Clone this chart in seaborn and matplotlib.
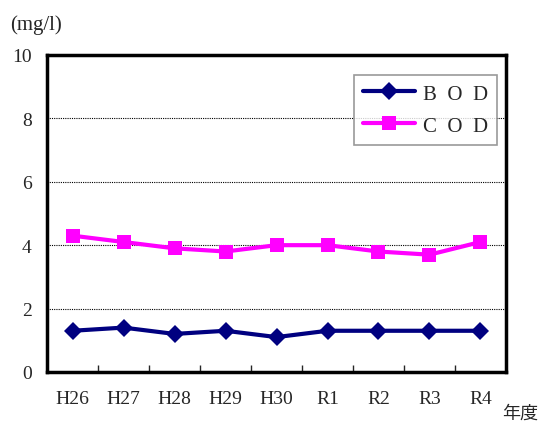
import matplotlib as mpl
mpl.use('Agg')
import matplotlib.pyplot as plt
from matplotlib.ticker import FixedLocator
import pandas as pd
import seaborn as sns

years = ['H26', 'H27', 'H28', 'H29', 'H30', 'R1', 'R2', 'R3', 'R4']
bod = [1.3, 1.4, 1.2, 1.3, 1.1, 1.3, 1.3, 1.3, 1.3]
cod = [4.3, 4.1, 3.9, 3.8, 4.0, 4.0, 3.8, 3.7, 4.1]
series = ['BOD', 'COD']


def save_graph():
    df = pd.DataFrame({'year': years, 'BOD': bod, 'COD': cod})
    ldf = pd.melt(df, id_vars='year', var_name='typ', value_name='val')
    ldf['x'] = ldf['year'].map({y: i for i, y in enumerate(years)})

    sns.set_style('white')
    plt.rcParams['font.family'] = ['Liberation Serif', 'Noto Sans CJK JP']

    f = plt.figure(figsize=(5.47, 4.27), dpi=100)
    ax = f.add_axes([0.086, 0.1265, 0.839, 0.7425])

    pal = {'BOD': '#000080', 'COD': '#ff00ff'}
    sns.lineplot(data=ldf, x='x', y='val', hue='typ', style='typ',
                 palette=pal, markers={'BOD': 'D', 'COD': 's'},
                 dashes=False, linewidth=3, markersize=10.5,
                 markeredgewidth=0, ax=ax)
    for ln in ax.lines:
        if ln.get_marker() == 'D':
            ln.set_markersize(9.5)

    ax.set_xlim(-0.5, len(years) - 0.5)
    ax.set_ylim(0, 10)
    ax.set_yticks([0, 2, 4, 6, 8, 10])
    ax.set_xticks(range(len(years)))
    ax.set_xticklabels(years, fontsize=14)
    ax.xaxis.set_minor_locator(FixedLocator([i + 0.5 for i in range(len(years) - 1)]))
    ax.tick_params(axis='x', which='major', length=0, pad=13)
    ax.tick_params(axis='x', which='minor', direction='in', length=5, width=1, bottom=True)
    ax.tick_params(axis='y', length=0, labelsize=14, pad=11)
    ax.set_xlabel('')
    ax.set_ylabel('')

    for y in [2, 4, 6, 8]:
        ax.axhline(y, color='black', linestyle=(0, (1, 1)), linewidth=0.8, zorder=0)

    for s in ax.spines.values():
        s.set_visible(True)
        s.set_color('black')
        s.set_linewidth(2.5)

    h, l = ax.get_legend_handles_labels()
    leg = ax.legend(h, ['B  O  D', 'C  O  D'], loc='upper right', bbox_to_anchor=(0.981, 0.938),
                    fontsize=15, frameon=True, fancybox=False, handlelength=2.5,
                    handletextpad=0.35, borderpad=0.45, labelspacing=0.6, borderaxespad=0)
    leg.get_frame().set_edgecolor('#808080')
    leg.get_frame().set_linewidth(1.2)

    f.text(0.018, 0.93, '(mg/l)', fontsize=15)
    f.text(0.918, 0.02, '年度', fontsize=13, family=['Noto Sans CJK JP'])

    f.savefig('out.png', dpi=100)


if __name__ == "__main__":
    save_graph()
